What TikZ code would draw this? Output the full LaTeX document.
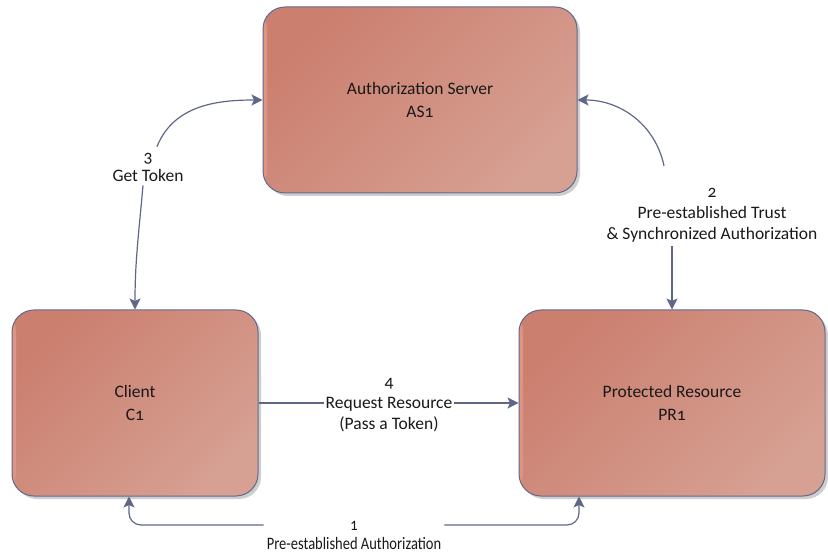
\documentclass[tikz,border=0pt]{standalone}
\usepackage{fontspec}
\setmainfont{Carlito}[Numbers=OldStyle]
\usetikzlibrary{arrows.meta,shadows,calc}

\definecolor{boxdark}{RGB}{203,127,111}
\definecolor{boxlight}{RGB}{214,160,146}
\definecolor{boxedge}{RGB}{96,106,140}
\definecolor{boxhl}{RGB}{222,148,128}
\definecolor{linkc}{RGB}{94,103,136}
\definecolor{txt}{RGB}{25,25,25}

\tikzset{
  box/.style={
    draw=boxedge, line width=1pt, rounded corners=22pt,
    top color=boxdark, bottom color=boxlight, shading angle=45,
    align=center, text=txt, font=\fontsize{17.5}{23}\selectfont,
    drop shadow={shadow xshift=3pt, shadow yshift=-3pt, fill=black!35, opacity=0.55},
    path picture={
      \fill[boxhl] (path picture bounding box.south west)
        rectangle ([xshift=4pt]path picture bounding box.north west);
    }
  },
  lbl/.style={align=center, text=txt, inner sep=0pt, font=\fontsize{17.5}{21}\selectfont},
  conn/.style={draw=linkc, line width=1.2pt,
    -{Stealth[length=11pt,width=11pt,inset=2.5pt]}},
}

\begin{document}
\begin{tikzpicture}[x=1pt,y=1pt]
\useasboundingbox (0,0) rectangle (828,555);

% the three parties
\node[box, minimum width=314pt, minimum height=186pt] (AS) at (420,455) {Authorization Server\\AS1};
\node[box, minimum width=246pt, minimum height=186pt] (C) at (135,152) {Client\\C1};
\node[box, minimum width=306pt, minimum height=186pt] (PR) at (672,152) {Protected Resource\\PR1};

% step labels
\node[lbl, font=\fontsize{17.5}{19}\selectfont] (L3) at (148,388) {3\\Get Token};
\node[lbl] (L2) at (712,340) {2\\Pre-established Trust\\\& Synchronized Authorization};
\node[lbl, font=\fontsize{17.5}{19}\selectfont, xscale=0.83, transform shape] (L1) at (354,20) {1\\Pre-established Authorization};
\coordinate (b1) at (354,30);

% 3: get token
\draw[conn] ([xshift=9pt,yshift=6pt]L3.north) to[out=68,in=180] (AS.west);
\draw[conn] ([xshift=-5pt,yshift=-4pt]L3.south) to[out=-95,in=90] (C.north);

% 2: trust between server and resource
\draw[conn] ([xshift=-48pt,yshift=22pt]L2.north) to[out=102,in=0] (AS.east);
\draw[conn] ([yshift=-4pt]PR.north |- L2.south) -- (PR.north);

% 1: pre-established authorization
\draw[conn, rounded corners=12pt] ([xshift=-3pt]L1.west |- b1) -| ($(C.south)+(-6,0)$);
\draw[conn, rounded corners=12pt] ([xshift=3pt]L1.east |- b1) -| ($(PR.south)+(-93,0)$);

% 4: request resource
\draw[conn] (C.east) -- (PR.west);
\node[lbl, fill=white, inner xsep=2pt] (L4) at (389,150) {4\\Request Resource\\(Pass a Token)};
\end{tikzpicture}
\end{document}
